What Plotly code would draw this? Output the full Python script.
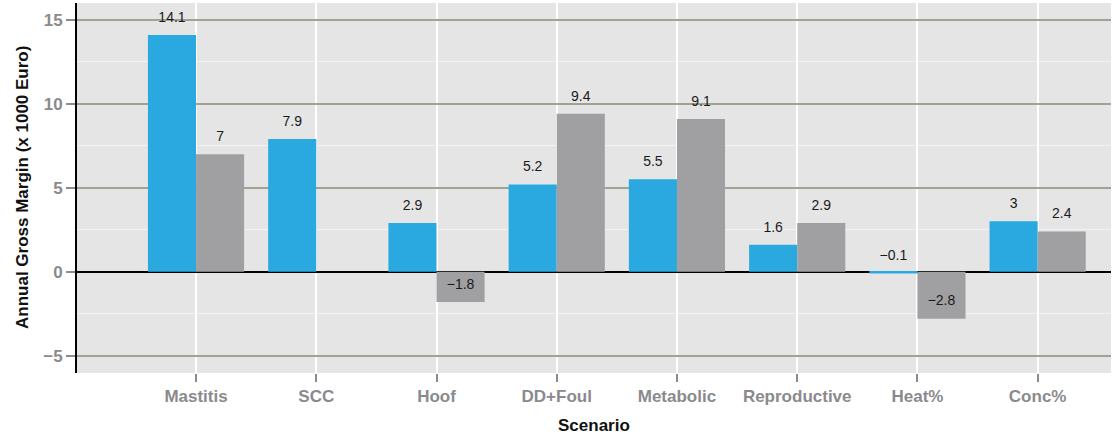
import plotly.graph_objects as go

categories = ["Mastitis", "SCC", "Hoof", "DD+Foul", "Metabolic", "Reproductive", "Heat%", "Conc%"]
series_a = [14.1, 7.9, 2.9, 5.2, 5.5, 1.6, -0.1, 3.0]
series_b = [7.0, None, -1.8, 9.4, 9.1, 2.9, -2.8, 2.4]
labels_a = ["14.1", "7.9", "2.9", "5.2", "5.5", "1.6", "\u22120.1", "3"]
labels_b = ["7", "", "\u22121.8", "9.4", "9.1", "2.9", "\u22122.8", "2.4"]
y_ticks = [-5, 0, 5, 10, 15]
y_ticktext = ["\u22125", "0", "5", "10", "15"]

blue = "#29A9E0"
grey = "#A0A0A2"
idx = list(range(len(categories)))
label_shift = 1.0
half = 0.2

FONT = "Liberation Sans, Arial, sans-serif"

fig = go.Figure()
fig.add_trace(go.Bar(x=idx, y=series_a, marker=dict(color=blue, line=dict(width=0)), showlegend=False))
fig.add_trace(go.Bar(x=idx, y=series_b, marker=dict(color=grey, line=dict(width=0)), showlegend=False))

fig.add_trace(go.Scatter(
    x=[i - half for i in idx],
    y=[(v + label_shift) if v is not None else None for v in series_a],
    text=labels_a, mode="text", textposition="middle center",
    textfont=dict(family=FONT, size=14, color="#1A1A1A"),
    showlegend=False, hoverinfo="skip", cliponaxis=False))
fig.add_trace(go.Scatter(
    x=[i + half for i in idx],
    y=[(v + label_shift) if v is not None else None for v in series_b],
    text=labels_b, mode="text", textposition="middle center",
    textfont=dict(family=FONT, size=14, color="#1A1A1A"),
    showlegend=False, hoverinfo="skip", cliponaxis=False))

tickfont = dict(family=FONT, size=17, color="#8A8A8E", weight="bold")
titlefont = dict(family=FONT, size=17, color="#111111", weight="bold")

fig.update_layout(
    width=1115, height=436,
    margin=dict(l=77, r=4, t=3, b=63),
    paper_bgcolor="white", plot_bgcolor="#E5E5E5",
    barmode="group", bargap=0.2, bargroupgap=0,
    xaxis=dict(
        tickmode="array", tickvals=idx, ticktext=categories,
        range=[-0.99, 7.61], automargin=False,
        showgrid=True, gridcolor="white", gridwidth=2,
        ticks="outside", ticklen=8, tickwidth=2, tickcolor="#8C8C8C",
        tickfont=tickfont, zeroline=False, showline=False,
    ),
    yaxis=dict(
        tickmode="array", tickvals=y_ticks, ticktext=y_ticktext,
        range=[-6.03, 16.0], automargin=False,
        showgrid=True, gridcolor="#A2A294", gridwidth=2,
        minor=dict(dtick=2.5, tick0=0, showgrid=True, gridcolor="#F2F2F2", gridwidth=1, ticks=""),
        ticks="outside", ticklen=9, tickwidth=2, tickcolor="#8C8C8C",
        tickfont=tickfont,
        zeroline=True, zerolinecolor="black", zerolinewidth=2,
        showline=True, linecolor="black", linewidth=2,
    ),
    annotations=[
        dict(text="Scenario", xref="paper", yref="paper", x=0.5, y=0, yshift=-52,
             xanchor="center", yanchor="middle", showarrow=False, font=titlefont),
        dict(text="Annual Gross Margin (x 1000 Euro)", xref="paper", yref="paper", x=0, y=0.5,
             xshift=-55, xanchor="center", yanchor="middle", textangle=-90,
             showarrow=False, font=titlefont),
    ],
)

fig.write_html("out.html", config={"displayModeBar": False},
               post_script="document.body.style.margin='0';document.body.style.padding='0';")
